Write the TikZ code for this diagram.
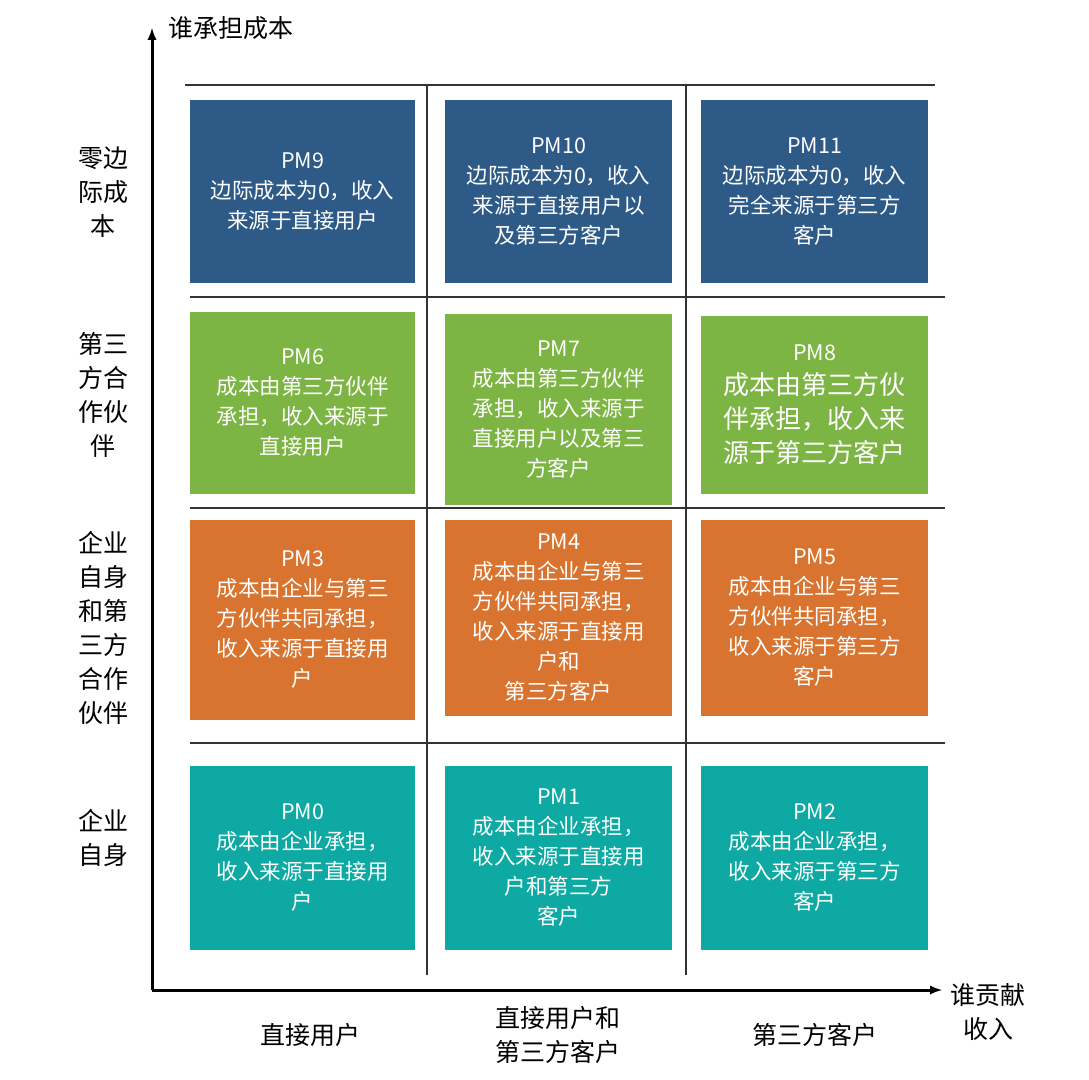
\documentclass[tikz,border=0pt]{standalone}
\usepackage{fontspec}
\setmainfont{Noto Sans CJK SC}
\begin{document}
\begin{tikzpicture}[x=1pt,y=-1pt,
 lab/.style={align=center,font=\fontsize{25}{34}\selectfont},
 gl/.style={line width=1.2pt,black!80}]
\useasboundingbox (0,0) rectangle (1089,1079);
\definecolor{cb}{HTML}{2E5A87}\definecolor{cg}{HTML}{7DB544}\definecolor{co}{HTML}{D8742F}\definecolor{ct}{HTML}{0EA9A2}
\def\bx#1#2#3#4#5#6#7{\fill[#6] (#2,#3) rectangle (#4,#5); \node[text=white,align=center,font=\fontsize{21.5}{30}\selectfont] (#1) at ({(#2+#4)/2},{(#3+#5)/2}) {#7};}
\draw[gl] (185,85)--(935,85) (190,297)--(945,297) (190,508)--(945,508) (190,743)--(945,743)
 (427,85)--(427,975) (686,85)--(686,975);
\bx{pm9}{190}{100}{415}{283}{cb}{PM9\\边际成本为0，收入\\来源于直接用户}
\bx{pm10}{445}{100}{672}{283}{cb}{PM10\\边际成本为0，收入\\来源于直接用户以\\及第三方客户}
\bx{pm11}{701}{100}{928}{283}{cb}{PM11\\边际成本为0，收入\\完全来源于第三方\\客户}
\bx{pm6}{190}{312}{415}{494}{cg}{PM6\\成本由第三方伙伴\\承担，收入来源于\\直接用户}
\bx{pm7}{445}{314}{672}{505}{cg}{PM7\\成本由第三方伙伴\\承担，收入来源于\\直接用户以及第三\\方客户}
\fill[cg] (701,316) rectangle (928,494);
\node[text=white,align=center,font=\fontsize{26}{34}\selectfont] (pm8) at (814.5,405) {{\fontsize{21.5}{30}\selectfont PM8}\\成本由第三方伙\\伴承担，收入来\\源于第三方客户};
\bx{pm3}{190}{520}{415}{720}{co}{PM3\\成本由企业与第三\\方伙伴共同承担，\\收入来源于直接用\\户}
\bx{pm4}{445}{520}{672}{716}{co}{PM4\\成本由企业与第三\\方伙伴共同承担，\\收入来源于直接用\\户和\\第三方客户}
\bx{pm5}{701}{520}{928}{716}{co}{PM5\\成本由企业与第三\\方伙伴共同承担，\\收入来源于第三方\\客户}
\bx{pm0}{190}{766}{415}{950}{ct}{PM0\\成本由企业承担，\\收入来源于直接用\\户}
\bx{pm1}{445}{766}{672}{950}{ct}{PM1\\成本由企业承担，\\收入来源于直接用\\户和第三方\\客户}
\bx{pm2}{701}{766}{928}{950}{ct}{PM2\\成本由企业承担，\\收入来源于第三方\\客户}
\coordinate (o) at (152,990);\coordinate (yt) at (152,28);\coordinate (xt) at (942,990);
\draw[line width=3pt,-latex] (o)--(yt);
\draw[line width=3pt,-latex] (o)--(xt);
\node[lab,anchor=west] (ya) at (165,28) {谁承担成本};
\node[lab] (xa) at (988,1012) {谁贡献\\收入};
\node[lab] (l1) at (103,192) {零边\\际成\\本};
\node[lab] (l2) at (103,395) {第三\\方合\\作伙\\伴};
\node[lab] (l3) at (103,628) {企业\\自身\\和第\\三方\\合作\\伙伴};
\node[lab] (l4) at (103,838) {企业\\自身};
\node[lab] (c1) at (310,1035) {直接用户};
\node[lab] (c2) at (558,1035) {直接用户和\\第三方客户};
\node[lab] (c3) at (815,1035) {第三方客户};
\end{tikzpicture}
\end{document}
